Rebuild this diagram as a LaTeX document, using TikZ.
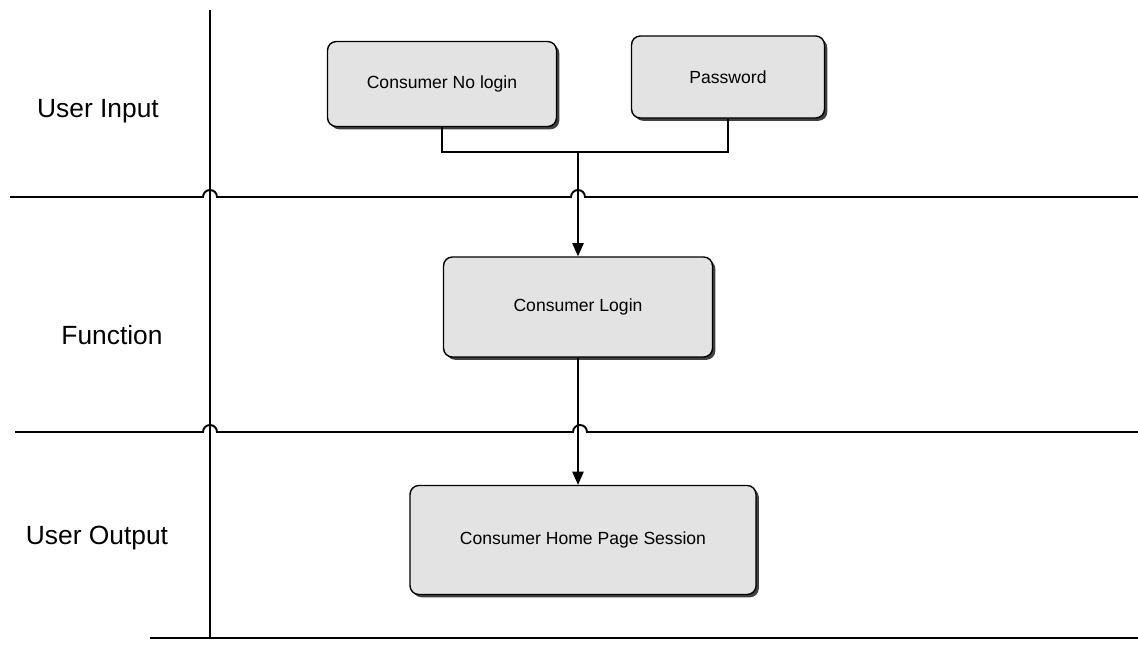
\documentclass[tikz,border=0pt]{standalone}
\usepackage{fontspec}
\setmainfont{Liberation Sans}
\usetikzlibrary{arrows.meta,shadows}
\tikzset{
  task/.style = {draw, line width=0.8pt, rounded corners=5pt, fill=gray!22, align=center,
    drop shadow = {shadow xshift=1.6pt, shadow yshift=-1.6pt, fill=black!75, opacity=1}},
  lanename/.style = {font=\fontsize{15}{18}\selectfont},
  flow/.style = {line width=0.6pt},
}
\begin{document}
\begin{tikzpicture}[x=0.02cm, y=0.02cm]
    \useasboundingbox (0,0) rectangle (1138,656);
    % lanes, with hops where the flow crosses
    \draw[line width=1.1pt] (210,646) -- (210,18);
    \foreach \y/\a/\h in {459/10/578, 224/15/580} {
      \draw[line width=1.1pt] (\a,\y) -- (203,\y) arc (180:0:7) -- (\h - 7,\y) arc (180:0:7) -- (1138,\y);
    }
    \draw[line width=1.1pt] (150,18) -- (1138,18);
    \node[lanename] (inlane)  at (98,545) {User Input};
    \node[lanename] (funlane) at (112,321) {Function};
    \node[lanename] (outlane) at (97,118) {User Output};
    % steps
    \node[task, minimum width=4.58cm, minimum height=1.7cm]  (nologin)  at (442,572) {Consumer No login};
    \node[task, minimum width=3.86cm, minimum height=1.64cm] (password) at (728,579) {Password};
    \node[task, minimum width=5.38cm, minimum height=2cm]    (login)    at (578,349) {Consumer Login};
    \node[task, minimum width=6.92cm, minimum height=2.18cm] (home)     at (583,116) {Consumer Home Page Session};
    \coordinate (join) at (578,504);
    \draw[flow] (nologin.south) |- (join) -| (password.south);
    \draw[flow, -{Triangle[length=7.5pt, width=6.5pt]}] (join) -- (login.north);
    \draw[flow, -{Triangle[length=7.5pt, width=6.5pt]}] (login.south) -- (login.south |- home.north);
\end{tikzpicture}
\end{document}
